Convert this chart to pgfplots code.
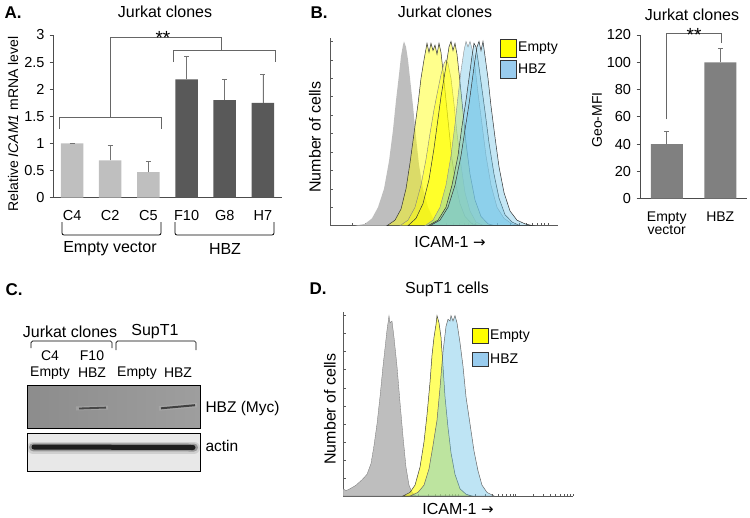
\documentclass[border=0pt]{standalone}
\usepackage{pgfplots}
\pgfplotsset{compat=1.18}
\usepackage{fontspec}
\setmainfont{Liberation Sans}
\newfontfamily\dv{DejaVu Sans}
\definecolor{barL}{HTML}{BFBFBF}
\definecolor{barD}{HTML}{595959}
\definecolor{barM}{HTML}{808080}
\definecolor{hgray}{HTML}{BEBEBE}
\definecolor{hyel}{HTML}{FFFF00}
\definecolor{hblue}{RGB}{110,195,230}
\definecolor{lblue}{HTML}{99CCEE}
\newcommand{\fs}[1]{\fontsize{#1}{#1}\selectfont}
\pgfplotsset{
  histo/.style={scale only axis, axis lines=left, axis line style={-,black!65,line width=0.7pt},
    ymin=0, ymax=102, ytick={10,20,...,100}, yticklabels={}, xticklabels={},
    tick align=inside, major tick length=2.5pt, tick style={black!65,line width=0.5pt}},
  bars/.style={scale only axis, axis lines=left, axis line style={-,black!70,line width=0.8pt},
    tick align=outside, major tick length=3.5pt, y tick style={black!70,line width=0.8pt},
    major x tick style={draw=none},
    every tick label/.append style={font=\fs{14.5}}},
}
\begin{document}
\begin{tikzpicture}[x=1pt,y=1pt]
\useasboundingbox (0,0) rectangle (750,-517);

% ---------------- Panel A ----------------
\node[anchor=west,font=\bfseries\fs{17}] at (1,-13) {A.};
\node[font=\fs{16}] at (165,-12) {Jurkat clones};
\node[rotate=90,font=\fs{14}] at (13,-124) {Relative \textit{ICAM1} mRNA level};
\begin{axis}[bars, at={(53pt,-197.7pt)}, anchor=south west, width=229pt, height=162.7pt,
  xmin=-0.5, xmax=5.5, ymin=0, ymax=3,
  xtick={0,1,2,3,4,5}, xticklabels={C4,C2,C5,F10,G8,H7},
  xticklabel style={yshift=-6pt},
  ytick={0,0.5,1,1.5,2,2.5,3}, yticklabels={0,0.5,1,1.5,2,2.5,3},
  yticklabel style={xshift=-1.5pt}]
\addplot[ybar, bar width=22.5pt, bar shift=0pt, fill=barL, draw=none,
  error bars/.cd, y dir=plus, y explicit,
  error bar style={black!55,line width=0.8pt},
  error mark options={rotate=90,black!55,mark size=2.5pt,line width=0.8pt}]
  coordinates {(0,1.00) +- (0,0.01) (1,0.69) +- (0,0.28) (2,0.47) +- (0,0.20)};
\addplot[ybar, bar width=22.5pt, bar shift=0pt, fill=barD, draw=none,
  error bars/.cd, y dir=plus, y explicit,
  error bar style={black!55,line width=0.8pt},
  error mark options={rotate=90,black!55,mark size=2.5pt,line width=0.8pt}]
  coordinates {(3,2.18) +- (0,0.43) (4,1.80) +- (0,0.39) (5,1.75) +- (0,0.52)};
\end{axis}
\draw[black!60,line width=0.8pt] (59,-129)--(59,-117.3)--(161,-117.3)--(161,-129);
\draw[black!60,line width=0.8pt] (110,-117.3)--(110,-37.7)--(221,-37.7)--(221,-50);
\draw[black!60,line width=0.8pt] (173,-62)--(173,-50)--(275,-50)--(275,-62);
\node[font=\fs{19}] at (163,-38) {**};
\draw[line width=0.8pt,rounded corners=2pt] (62,-222)--(62,-235)--(161,-235)--(161,-222);
\draw[line width=0.8pt,rounded corners=2pt] (175,-222)--(175,-235)--(274,-235)--(274,-222);
\node[font=\fs{16}] at (110,-249) {Empty vector};
\node[font=\fs{16}] at (225,-249) {HBZ};

% ---------------- Panel B (histogram) ----------------
\node[anchor=west,font=\bfseries\fs{17}] at (307,-13) {B.};
\node[font=\fs{16}] at (445,-12) {Jurkat clones};
\node[rotate=90,font=\fs{16}] at (315,-137) {Number of cells};
\node[font=\fs{16}] at (450,-242) {ICAM-1 {\dv\fs{15}→}};
\begin{axis}[histo, at={(330pt,-225.7pt)}, anchor=south west, width=228pt, height=188pt,
  xmin=330, xmax=558,
  xtick={352.3,365.1,374.1,381.2,386.9,391.8,396.0,399.7,403.0,424.8,437.6,446.6,453.7,459.4,464.3,468.5,472.2,475.5,497.3,510.1,519.1,526.2,531.9,536.8,541.0,544.7,548.0}]
\addplot[fill=hgray, draw=none] coordinates {(355,0) (365,1) (372,4) (378,10) (384,20) (389,35) (393,52) (396,68) (399,82) (401,92) (403,98) (404,100) (406,97) (408,90) (410,80) (413,65) (416,48) (419,33) (423,20) (428,10) (433,4) (440,1) (448,0)} \closedcycle;
\addplot[fill=hyel, fill opacity=0.45, draw=black!80, line width=0.5pt] coordinates {(387,0) (395,3) (401,9) (406,20) (410,34) (414,50) (418,66) (421,80) (424,90) (426,96) (427,99) (429,94) (431,99) (433,95) (435,98) (437,93) (439,99) (441,94) (443,84) (446,68) (449,52) (452,36) (456,22) (460,12) (465,5) (472,1) (480,0)} \closedcycle;
\addplot[fill=hyel, fill opacity=0.45, draw=black!50, line width=0.4pt] coordinates {(400,0) (408,3) (415,10) (421,22) (426,36) (430,50) (434,63) (438,74) (441,82) (444,88) (446,90) (448,88) (451,80) (454,66) (457,50) (461,33) (465,18) (470,8) (476,2) (484,0)} \closedcycle;
\addplot[fill=hyel, fill opacity=0.45, draw=black!80, line width=0.5pt] coordinates {(408,0) (416,4) (423,12) (429,25) (434,42) (438,58) (441,70) (444,80) (447,90) (449,97) (451,100) (453,95) (455,99) (457,93) (460,78) (463,62) (466,45) (470,28) (475,14) (481,5) (488,1) (495,0)} \closedcycle;
\addplot[fill=hblue, fill opacity=0.4, draw=black!45, line width=0.4pt] coordinates {(425,0) (433,3) (440,10) (446,22) (451,38) (455,55) (458,70) (461,84) (464,95) (466,100) (468,97) (470,100) (472,96) (475,86) (478,72) (482,55) (486,38) (491,22) (497,10) (504,4) (512,1) (520,0)} \closedcycle;
\addplot[fill=hblue, fill opacity=0.4, draw=black!80, line width=0.5pt] coordinates {(428,0) (438,3) (446,10) (452,22) (458,38) (462,54) (466,68) (469,80) (472,92) (474,99) (476,97) (478,90) (481,78) (485,62) (489,45) (494,28) (499,15) (505,6) (512,2) (520,0)} \closedcycle;
\addplot[fill=hblue, fill opacity=0.4, draw=black!80, line width=0.5pt] coordinates {(430,0) (440,3) (448,10) (455,22) (461,38) (465,52) (469,66) (472,78) (475,90) (477,97) (479,100) (481,95) (483,100) (485,92) (488,80) (491,65) (495,48) (499,32) (504,18) (510,8) (517,3) (525,1) (533,0)} \closedcycle;
\end{axis}
\draw[fill=hyel, draw=black!80, line width=0.6pt] (500,-39) rectangle (516,-57);
\draw[fill=lblue, draw=black!80, line width=0.6pt] (500,-60) rectangle (516,-78);
\node[anchor=west,font=\fs{14},inner sep=1pt] at (517,-48) {Empty};
\node[anchor=west,font=\fs{14},inner sep=1pt] at (517,-69) {HBZ};

% ---------------- Panel B (Geo-MFI) ----------------
\node[font=\fs{16}] at (692,-15) {Jurkat clones};
\node[rotate=90,font=\fs{14}] at (597,-120) {Geo-MFI};
\begin{axis}[bars, at={(640pt,-198.7pt)}, anchor=south west, width=107pt, height=163.7pt,
  xmin=-0.5, xmax=1.5, ymin=0, ymax=120,
  xtick={0,1}, xticklabels={Empty\\vector,HBZ},
  xticklabel style={yshift=-6pt, align=center, font=\fontsize{14}{13.5}\selectfont},
  ytick={0,20,...,120}, yticklabels={0,20,40,60,80,100,120},
  yticklabel style={xshift=-2pt}]
\addplot[ybar, bar width=32pt, bar shift=0pt, fill=barM, draw=none,
  error bars/.cd, y dir=plus, y explicit,
  error bar style={black!55,line width=0.8pt},
  error mark options={rotate=90,black!55,mark size=2.5pt,line width=0.8pt}]
  coordinates {(0,40) +- (0,9) (1,100) +- (0,10)};
\end{axis}
\draw[black!60,line width=0.8pt] (666,-119.3)--(666,-33.3)--(721,-33.3)--(721,-42.7);
\node[font=\fs{19}] at (694,-35) {**};

% ---------------- Panel C ----------------
\node[anchor=west,font=\bfseries\fs{17}] at (2,-290) {C.};
\node[font=\fs{16}] at (70,-332) {Jurkat clones};
\node[font=\fs{16}] at (155,-332) {SupT1};
\draw[line width=0.7pt,rounded corners=1.5pt] (31,-348)--(31,-341)--(112,-341)--(112,-348);
\draw[line width=0.7pt,rounded corners=1.5pt] (116,-350)--(116,-341)--(196,-341)--(196,-350);
\node[font=\fs{14}] at (50,-356) {C4};
\node[font=\fs{14}] at (92,-356) {F10};
\node[font=\fs{14}] at (50,-373) {Empty};
\node[font=\fs{14}] at (92,-373) {HBZ};
\node[font=\fs{14}] at (137,-373) {Empty};
\node[font=\fs{14}] at (178,-373) {HBZ};
\shade[left color=black!45, right color=black!38] (27,-385) rectangle (200,-428);
\draw[line width=4pt, black!30, opacity=0.5] (76,-408.5)--(108,-407.5);
\draw[line width=1.8pt, black!72] (79,-408.5)--(106,-407.6);
\draw[line width=4.5pt, black!30, opacity=0.5] (159,-408.5)--(197,-405);
\draw[line width=2pt, black!75] (161,-408.3)--(195,-405.2);
\draw[line width=0.8pt] (27,-385) rectangle (200,-428);
\fill[black!9] (27,-433) rectangle (200,-471);
\draw[line width=12pt, black!30, opacity=0.45, line cap=round] (33,-447.5)--(194,-447.5);
\draw[line width=8pt, black!55, opacity=0.6, line cap=round] (33,-447.3)--(194,-447.5);
\draw[line width=5pt, black!88, line cap=round] (34,-447)--(193,-447.5);
\draw[line width=0.8pt] (27,-433) rectangle (200,-471);
\node[anchor=west,font=\fs{15.5}] at (202,-408) {HBZ (Myc)};
\node[anchor=west,font=\fs{15.5}] at (202,-446) {actin};

% ---------------- Panel D ----------------
\node[anchor=west,font=\bfseries\fs{17}] at (306,-289) {D.};
\node[font=\fs{16}] at (447,-289) {SupT1 cells};
\node[rotate=90,font=\fs{16}] at (330,-409) {Number of cells};
\node[font=\fs{16}] at (458,-509) {ICAM-1 {\dv\fs{15}→}};
\begin{axis}[histo, at={(343pt,-496pt)}, anchor=south west, width=230pt, height=184pt,
  xmin=343, xmax=573,
  xtick={360.3,370.4,377.6,383.2,387.7,391.6,394.9,397.9,400.5,417.8,427.9,435.1,440.7,445.2,449.1,452.4,455.4,458.0,475.3,485.4,492.6,498.2,502.7,506.6,509.9,512.9,515.5,532.8,542.9,550.1,555.7,560.2,564.1,567.4,570.4,573.0}]
\addplot[fill=hgray, draw=black!55, line width=0.3pt] coordinates {(343,4) (346,3) (350,4) (356,6) (362,9) (367,12) (371,18) (374,28) (377,40) (380,55) (383,72) (385,82) (387,92) (389,100) (390,96) (392,97) (394,88) (397,72) (400,52) (403,33) (406,16) (409,6) (412,2) (416,0)} \closedcycle;
\addplot[fill=hyel, fill opacity=0.6, draw=black!75, line width=0.5pt] coordinates {(403,0) (410,2) (415,6) (420,16) (424,30) (427,45) (430,63) (432,78) (434,88) (436,95) (437,100) (439,96) (441,88) (443,72) (445,55) (448,38) (451,24) (455,12) (460,4) (466,1) (472,0)} \closedcycle;
\addplot[fill=hblue, fill opacity=0.45, draw=black!60, line width=0.5pt] coordinates {(410,0) (418,2) (424,6) (429,15) (433,28) (437,42) (440,60) (443,80) (446,94) (448,98) (450,97) (451,100) (453,97) (455,100) (457,96) (460,85) (463,72) (466,55) (470,40) (474,25) (478,14) (482,6) (487,2) (494,0)} \closedcycle;
\end{axis}
\draw[fill=hyel, draw=black!80, line width=0.6pt] (472,-328) rectangle (488,-343);
\draw[fill=lblue, draw=black!80, line width=0.6pt] (472,-352) rectangle (488,-366);
\node[anchor=west,font=\fs{14},inner sep=1pt] at (489,-336) {Empty};
\node[anchor=west,font=\fs{14},inner sep=1pt] at (489,-359) {HBZ};
\end{tikzpicture}
\end{document}
